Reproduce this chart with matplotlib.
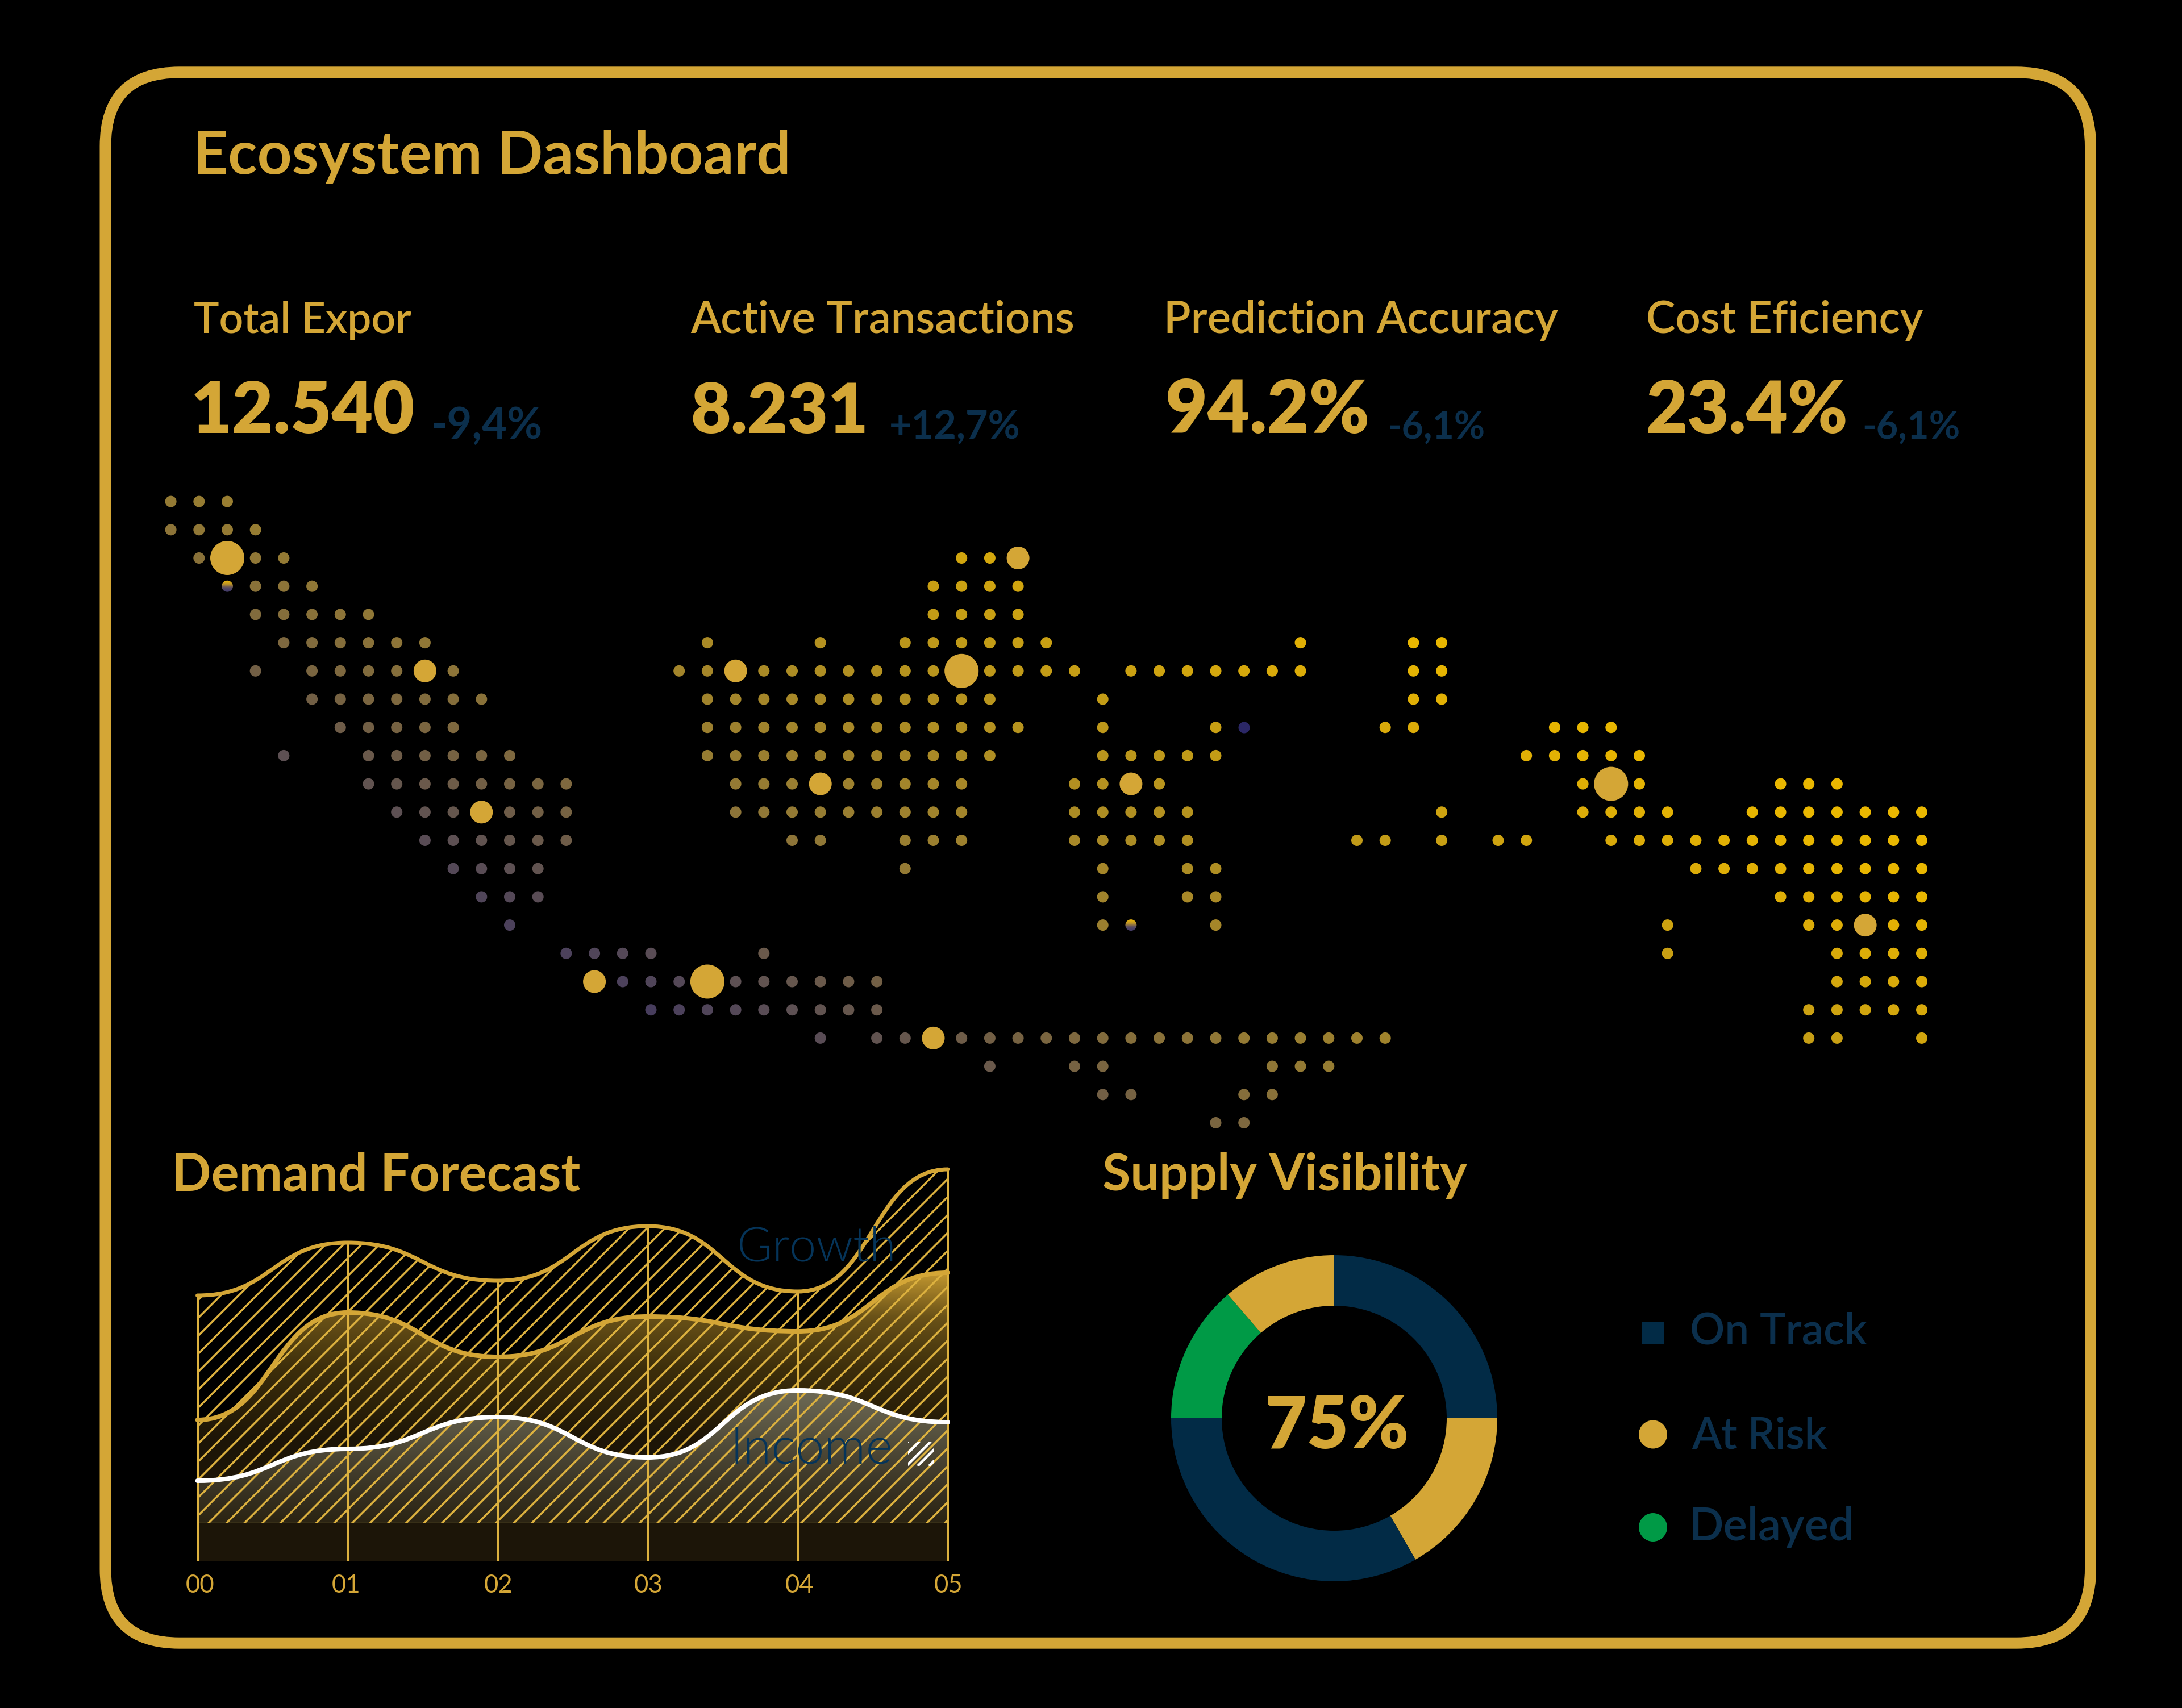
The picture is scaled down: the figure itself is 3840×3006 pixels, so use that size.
import numpy as np
import matplotlib
matplotlib.use("Agg")
import matplotlib.pyplot as plt
from matplotlib.path import Path
from matplotlib.patches import PathPatch, FancyBboxPatch, Circle, Rectangle
from matplotlib.collections import LineCollection
from matplotlib.colors import to_rgb
from matplotlib.font_manager import FontProperties
from matplotlib.textpath import TextPath
from matplotlib.transforms import ScaledTranslation

# ---------- data ----------
TITLE = "Ecosystem Dashboard"
kpi_labels = ["Total Expor", "Active Transactions", "Prediction Accuracy", "Cost Eficiency"]
kpi_values = ["12.540", "8.231", "94.2%", "23.4%"]
kpi_deltas = ["-9,4%", "+12,7%", "-6,1%", "-6,1%"]

def span(a, b):
    return list(range(a, b + 1))

# columns of the dots on each row of the map grid
dot_rows = [
    span(0, 2),
    span(0, 3),
    span(1, 4) + span(28, 30),
    span(3, 5) + span(27, 30),
    span(3, 7) + span(27, 30),
    span(4, 9) + [19, 23] + span(26, 31) + [40, 44, 45],
    [3] + span(5, 10) + span(18, 32) + span(34, 40) + [44, 45],
    span(5, 11) + span(19, 29) + [33, 44, 45],
    span(6, 10) + span(19, 30) + [33, 37, 43, 44] + span(49, 51),
    [4] + span(7, 12) + span(19, 29) + span(33, 37) + span(48, 52),
    span(7, 14) + span(20, 28) + span(32, 35) + span(50, 52) + span(57, 59),
    span(8, 14) + span(20, 28) + span(32, 36) + [45] + span(50, 53) + span(56, 62),
    span(9, 14) + [22, 23, 26, 27, 28] + span(32, 36) + [42, 43, 45, 47, 48] + span(51, 62),
    span(10, 13) + [26, 33, 36, 37] + span(54, 62),
    span(11, 13) + [33, 36, 37] + span(57, 62),
    [12, 33, 37, 53] + span(58, 62),
    span(14, 17) + [21, 53] + span(59, 62),
    span(15, 25) + span(59, 62),
    span(17, 25) + span(58, 62),
    [23] + span(25, 43) + [58, 59, 62],
    [29, 32, 33, 39, 40, 41],
    [33, 34, 38, 39],
    [37, 38],
]
big_rows = [2, 6, 11, 17, 17, 19, 2, 6, 6, 10, 10, 10, 15]
big_cols = [2, 9, 11, 15, 19, 27, 30, 20, 28, 23, 34, 51, 60]
big_px   = [60, 40, 40, 40, 60, 40, 40, 40, 60, 40, 40, 60, 40]
navy_dot = (8, 38)
split_dots = [(3, 2), (15, 34)]

periods = ["00", "01", "02", "03", "04", "05"]
outlook = [467, 560, 493, 589, 474, 689]
growth  = [248, 437, 359, 430, 404, 507]
income  = [141, 197, 253, 182, 300, 244]
band_top = 67

donut_names = ["On Track", "At Risk", "Delayed"]
donut_values = [25, 16.7, 33.3, 13.7, 11.3]
donut_center = "75%"

GOLD = "#d4a636"
HATCH = "#dcb13f"
NAVY = "#022b46"
DELTA = "#0b2f4c"
GREEN = "#009a46"
FAMILY = ["Lato", "DejaVu Sans"]

W, H = 3840, 3006
fig = plt.figure(figsize=(W / 300, H / 300), dpi=300, facecolor="black")

def box(left, top, width, height):
    return [left / W, 1 - (top + height) / H, width / W, height / H]

# ---------- map ----------
STEP = 49.7
ax_map = fig.add_axes(box(300.6 - STEP, 882.6 - STEP, 65 * STEP, 25 * STEP), zorder=1)
ax_map.axis("off")

t_stops = [-20, -14, -8, 0, 18, 28, 34, 42]
c_stops = ["#43395f", "#5d5053", "#766242", "#947a34", "#c09a18", "#dcac08", "#e8b600", "#ebb800"]
c_rgb = np.array([to_rgb(c) for c in c_stops])

def shade(r, c):
    t = c - 2 * r
    return [np.interp(t, t_stops, c_rgb[:, i]) for i in range(3)]

xs, ys, cs = [], [], []
for r, cols in enumerate(dot_rows):
    for c in cols:
        xs.append(c)
        ys.append(r)
        cs.append(shade(r, c))
px2pt = 72 / 300
ax_map.scatter(xs, ys, s=(20 * px2pt) ** 2, c=cs, linewidths=0, zorder=2)
ax_map.scatter([navy_dot[1]], [navy_dot[0]], s=(20 * px2pt) ** 2, c="#2b2766", linewidths=0, zorder=2)
ax_map.scatter(big_cols, big_rows, s=[(p * px2pt) ** 2 for p in big_px], c=GOLD, linewidths=0, zorder=3)

grad = np.array([[to_rgb("#e0ae10")], [to_rgb("#b08a30")], [to_rgb("#5a4c60")], [to_rgb("#453d68")]])
for r, c in split_dots:
    im = ax_map.imshow(grad, extent=(c - 0.21, c + 0.21, r + 0.21, r - 0.21), aspect="auto",
                       interpolation="bilinear", zorder=2)
    clip = Circle((c, r), 0.2, transform=ax_map.transData)
    im.set_clip_path(clip)
ax_map.set_xlim(-1, 64)
ax_map.set_ylim(24, -1)

# ---------- area chart ----------
X0, X1, Y0 = 347.5, 1668.0, 2747.0
YR = 700.0
ax = fig.add_axes(box(X0, Y0 - YR, X1 - X0, YR), zorder=2)
ax.set_facecolor("none")
ax.set_xlim(0, 5)
ax.set_ylim(0, YR)
for s in ax.spines.values():
    s.set_visible(False)

def curve(vals):
    v = [(0.0, vals[0])]
    code = [Path.MOVETO]
    for i in range(len(vals) - 1):
        v += [(i + 0.5, vals[i]), (i + 0.5, vals[i + 1]), (i + 1.0, vals[i + 1])]
        code += [Path.CURVE4] * 3
    return v, code

def area(vals, floor=0.0):
    v, code = curve(vals)
    v = v + [(5.0, floor), (0.0, floor), (0.0, vals[0])]
    code = code + [Path.LINETO, Path.LINETO, Path.CLOSEPOLY]
    return Path(v, code)

def gradient_fill(vals, stops_v, stops_c, z):
    rgb = np.array([to_rgb(c) for c in stops_c])
    vv = np.linspace(YR, 0, 700)
    img = np.stack([np.interp(vv, stops_v, rgb[:, i]) for i in range(3)], axis=1)[:, None, :]
    im = ax.imshow(img, extent=(0, 5, 0, YR), aspect="auto", zorder=z, interpolation="bilinear")
    im.set_clip_path(PathPatch(area(vals), transform=ax.transData))

gradient_fill(growth, [0, 220, 340, 430, 510, 700],
              ["#1c1507", "#1e1607", "#3e2f0b", "#6a5218", "#c69a30", "#d4a636"], 1)
gradient_fill(income, [67, 130, 200, 300, 700],
              ["#2b2413", "#3a3424", "#4f4a38", "#6e6a55", "#6e6a55"], 2)
ax.add_patch(Rectangle((0, 0), 5, band_top, fc="#1c1508", ec="none", zorder=3))
ax.plot([0, 5], [band_top, band_top], color="#3a3218", lw=0.4, zorder=3)

# diagonal hatch, clipped to the area under the top curve and above the band
segs = []
for K in np.arange(2668.3 - 31.6 * 20, 2668.3 + 31.6 * 60, 31.6):
    segs.append([(0, X0 + Y0 - K), (5, X1 + Y0 - K)])
lc = LineCollection(segs, colors=HATCH, linewidths=3.5 * px2pt, zorder=4)
ax.add_collection(lc)
lc.set_clip_path(PathPatch(area(outlook, band_top), transform=ax.transData))

ax.vlines(range(len(periods)), 0, outlook, color=HATCH, lw=4 * px2pt, zorder=5, clip_on=False)

for vals, col, lw, z in [(outlook, GOLD, 7, 6), (growth, GOLD, 8, 6), (income, "white", 8, 7)]:
    v, code = curve(vals)
    ax.add_patch(PathPatch(Path(v, code), fc="none", ec=col, lw=lw * px2pt, capstyle="round",
                           zorder=z, clip_on=False))

ax.set_yticks([])
ax.set_xticks(range(len(periods)))
ax.set_xticklabels(periods, fontfamily=FAMILY, fontweight=400, fontsize=10.5, color=GOLD)
ax.tick_params(axis="x", length=0, pad=5.5)
label_nudge = [4.5, -2, 1.5, 1, 3.5, 1]
for lab, dx in zip(ax.get_xticklabels(), label_nudge):
    lab.set_transform(lab.get_transform() + ScaledTranslation(dx / 300, 0, fig.dpi_scale_trans))

# ---------- donut ----------
CX, CY, RO, RI = 2348, 2496, 287, 198
ax_d = fig.add_axes(box(CX - RO, CY - RO, 2 * RO, 2 * RO), zorder=2)
ax_d.pie(donut_values, colors=[NAVY, GOLD, NAVY, GREEN, GOLD], startangle=90, counterclock=False,
         radius=1, wedgeprops=dict(width=1 - RI / RO, linewidth=0))
ax_d.set_xlim(-1, 1)
ax_d.set_ylim(-1, 1)
ax_d.axis("off")

# ---------- texts and frame, in picture pixels ----------
ax_p = fig.add_axes([0, 0, 1, 1], zorder=5)
ax_p.set_facecolor("none")
ax_p.set_xlim(0, W)
ax_p.set_ylim(H, 0)
ax_p.axis("off")

ax_p.add_patch(FancyBboxPatch((185.5, 127.3), 3679 - 185.5, 2891.7 - 127.3,
                              boxstyle="round,pad=0,rounding_size=130", fc="none", ec=GOLD,
                              lw=20 * px2pt))

def put(x, y, s, width, color=GOLD, weight="semibold"):
    """Place s so that its ink starts at x and is width pixels wide."""
    prop = FontProperties(family=FAMILY, weight=weight)
    ext = TextPath((0, 0), s, size=20, prop=prop).get_extents()
    scale = 300 / 72
    size = 20 * width / (ext.width * scale)
    left = x - ext.x0 * scale * size / 20
    return ax_p.text(left, y, s, color=color, fontproperties=prop, fontsize=size,
                     ha="left", va="baseline")

put(349, 306.5, TITLE, 1037, weight="bold")
label_x = [342, 1215, 2055, 2900]
label_w = [382, 673, 687, 484]
value_x = [342, 1219, 2055, 2900]
value_w = [385, 303, 351, 348]
delta_x = [763, 1568, 2446, 3281]
delta_w = [189, 225, 165, 166]
for i in range(4):
    put(label_x[i], 586, kpi_labels[i], label_w[i], weight="semibold")
    put(value_x[i], 762, kpi_values[i], value_w[i], weight="heavy")
    put(delta_x[i], 772, kpi_deltas[i], delta_w[i], color=DELTA, weight="bold")

put(309, 2095, "Demand Forecast", 712, weight="bold")
put(1942, 2095, "Supply Visibility", 639, weight="bold")
put(1302, 2220, "Growth", 268, color="#053459", weight=300)
put(1294, 2576, "Income", 273, color="#053459", weight=300)

# small hatched key beside Income
key = Rectangle((1598, 2537), 45, 43, transform=ax_p.transData)
key_segs = [[(K - 2537, 2537), (K - 2580, 2580)] for K in np.arange(4135, 4240, 20)]
key_lc = LineCollection(key_segs, colors="white", linewidths=4.5 * px2pt)
ax_p.add_collection(key_lc)
key_lc.set_clip_path(key)

put(2231, 2549, donut_center, 244, weight="heavy")
ax_p.add_patch(Rectangle((2889, 2326), 40, 40, fc=NAVY, ec="none"))
ax_p.scatter([2909, 2909], [2524.5, 2688], s=(50 * px2pt) ** 2, c=[GOLD, GREEN], linewidths=0)
put(2977, 2366, donut_names[0], 308, color=DELTA, weight="semibold")
put(2977, 2549, donut_names[1], 238, color=DELTA, weight="semibold")
put(2979, 2711, donut_names[2], 279, color=DELTA, weight="semibold")

fig.savefig("out.png", dpi=300, facecolor="black")
